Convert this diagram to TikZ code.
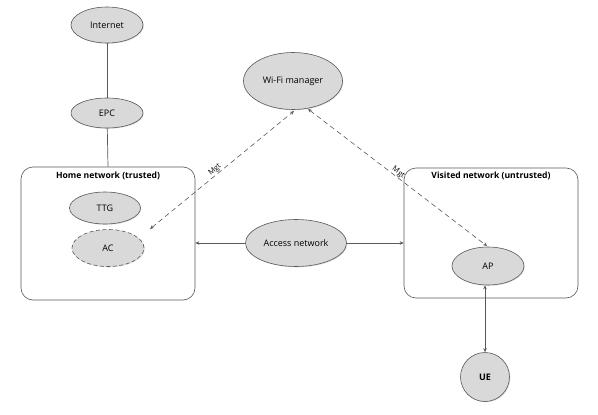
\documentclass[tikz,border=0pt]{standalone}
\usepackage{fontspec}
\setmainfont{Open Sans}
\usetikzlibrary{shapes.geometric,shapes.misc,arrows.meta,shadows}
\definecolor{nodefill}{HTML}{D9D9D9}
\definecolor{edge}{HTML}{595959}
\begin{document}
\begin{tikzpicture}[x=1pt,y=-1pt,
  font=\fontsize{9}{10.8}\selectfont,
  ell/.style={ellipse,draw=edge,fill=nodefill,inner sep=0pt,line width=0.6pt,
     drop shadow={shadow xshift=0.8pt,shadow yshift=-0.8pt,opacity=0.25}},
  netbox/.style={rectangle,rounded corners=12pt,draw=edge,line width=0.6pt,fill=white,
     inner sep=0pt},
  boxtitle/.style={font=\fontsize{8.6}{10}\selectfont\bfseries},
  conn/.style={draw=edge,line width=0.7pt},
  arr/.style={conn,-{Stealth[length=4pt,width=3.5pt]}},
  mgt/.style={conn,dashed,dash pattern=on 5pt off 3.5pt,line width=0.6pt,
     {Stealth[length=4pt,width=3.5pt]}-{Stealth[length=4pt,width=3.5pt]}},
  lbl/.style={font=\fontsize{7.5}{8}\selectfont,inner sep=0.5pt}
]
\useasboundingbox (0,0) rectangle (598,415);

% boxes
\node[netbox,minimum width=174pt,minimum height=133pt] (home) at (108,233.5) {};
\node[boxtitle] (hometitle) at (108,176) {Home network (trusted)};
\node[netbox,minimum width=174pt,minimum height=130pt] (visited) at (491,233) {};
\node[boxtitle] (vistitle) at (491,176) {Visited network (untrusted)};

% nodes
\node[ell,minimum width=72pt,minimum height=36pt] (internet) at (107,25) {Internet};
\node[ell,minimum width=72pt,minimum height=30pt] (epc) at (107,113) {EPC};
\node[ell,minimum width=71pt,minimum height=32pt] (ttg) at (105,208) {TTG};
\node[ell,dashed,dash pattern=on 4pt off 2.5pt,minimum width=72pt,minimum height=37pt] (ac) at (108,248) {AC};
\node[ell,minimum width=99pt,minimum height=57pt] (wifi) at (293,81) {Wi-Fi manager};
\node[ell,minimum width=101pt,minimum height=47pt] (acc) at (296,243) {Access network};
\node[ell,minimum width=72pt,minimum height=38pt] (ap) at (488,266) {AP};
\node[rounded rectangle,draw=edge,fill=nodefill,line width=0.6pt,
      minimum width=36pt,minimum height=49pt,inner sep=0pt,rounded rectangle arc length=180,
      shape border rotate=90,
      drop shadow={shadow xshift=0.8pt,shadow yshift=-0.8pt,opacity=0.25},
      font=\fontsize{9}{10.8}\selectfont\bfseries] (ue) at (485,377) {UE};

% plain connectors
\draw[conn] (internet) -- (epc);
\draw[conn] (epc) -- (home.north);
\draw[arr] (acc) -- (acc -| home.east);
\draw[arr] (acc) -- (acc -| visited.west);
\draw[conn,{Stealth[length=4pt,width=3.5pt]}-{Stealth[length=4pt,width=3.5pt]}] (ap.south -| ue.north) -- (ue.north);

% management links
\coordinate (acm) at (150,229);
\coordinate (wfa) at (294,111);
\coordinate (wfb) at (308,109);
\coordinate (apm) at (487,246);
\draw[mgt] (acm) -- node[lbl,sloped,above,pos=0.47] (mgt1) {Mgt} (wfa);
\draw[mgt] (wfb) -- node[lbl,sloped,above,pos=0.49] (mgt2) {Mgt} (apm);
\end{tikzpicture}
\end{document}
